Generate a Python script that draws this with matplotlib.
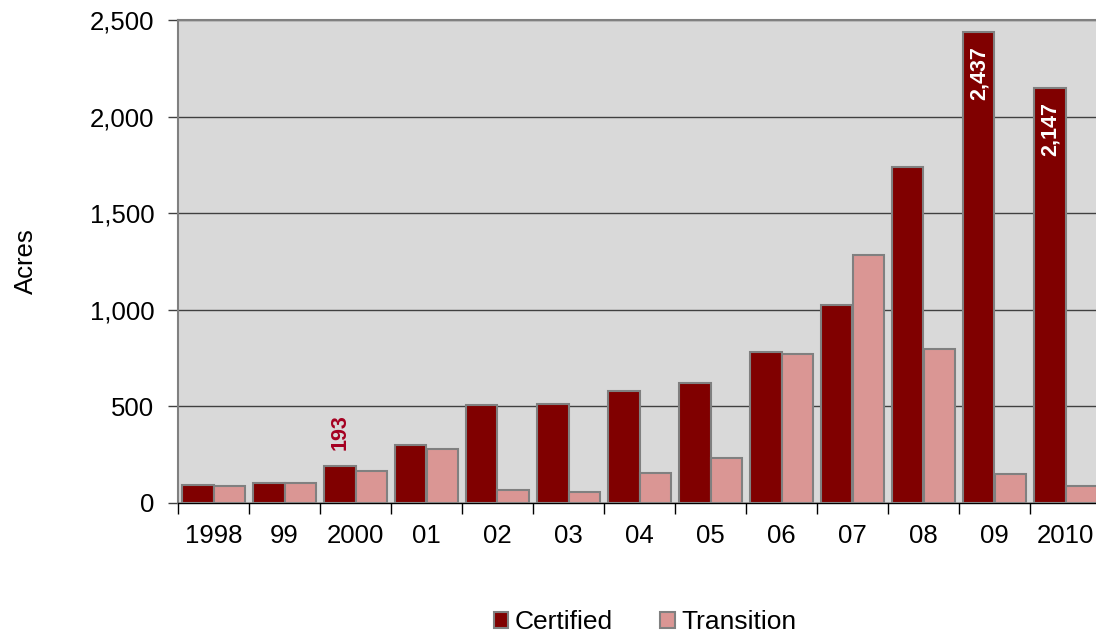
import matplotlib.pyplot as plt
import numpy as np
from matplotlib.patches import Patch
from matplotlib.ticker import FuncFormatter, FixedLocator

plt.rcParams['font.family'] = ['Liberation Sans', 'DejaVu Sans']

years = ['1998', '99', '2000', '01', '02', '03', '04', '05', '06', '07', '08', '09', '2010']
certified = [93, 105, 193, 300, 507, 511, 578, 622, 780, 1025, 1739, 2437, 2147]
transition = [88, 105, 166, 278, 67, 56, 154, 231, 773, 1285, 797, 148, 89]
yticks = [0, 500, 1000, 1500, 2000, 2500]

cert_color = '#800000'
trans_color = '#DA9694'
edge = '#808080'

fig = plt.figure(figsize=(10.96, 6.34), dpi=100)
ax = fig.add_axes([178 / 1096, 1 - 503 / 634, 923 / 1096, 483 / 634])
ax.set_facecolor('#D9D9D9')

x = np.arange(len(years))
w = 0.437
ax.bar(x - w / 2, certified, w, color=cert_color, edgecolor=edge, linewidth=1.5, zorder=3)
ax.bar(x + w / 2, transition, w, color=trans_color, edgecolor=edge, linewidth=1.5, zorder=3)

ax.set_xlim(-0.5, len(years) - 0.5)
ax.set_ylim(0, 2500)
ax.set_yticks(yticks)
ax.yaxis.set_major_formatter(FuncFormatter(lambda v, p: f'{int(v):,}'))
ax.yaxis.grid(True, color='#404040', linewidth=1.0, zorder=1)
ax.tick_params(axis='y', length=7, width=1, labelsize=18.5, pad=10, color='#404040')

ax.set_xticks(x)
ax.set_xticklabels(years)
ax.tick_params(axis='x', which='major', length=0, labelsize=18.5, pad=15)
ax.xaxis.set_minor_locator(FixedLocator(np.arange(-0.5, len(years), 1.0)))
ax.tick_params(axis='x', which='minor', length=8, width=1, color='black')

for s in ['left', 'top', 'right']:
    ax.spines[s].set_color(edge)
    ax.spines[s].set_linewidth(1.5)
ax.spines['bottom'].set_color('black')
ax.spines['bottom'].set_linewidth(1.0)

ax.set_ylabel('Acres', fontsize=18.5, labelpad=37)

# value labels
ax.text(x[2] - w / 2, certified[2] + 80, f'{certified[2]:,}', rotation=90, ha='center', va='bottom',
        color='#A50021', fontsize=15.5, fontweight='bold')
for i in (11, 12):
    ax.text(x[i] - w / 2, certified[i] - 70, f'{certified[i]:,}', rotation=90, ha='center', va='top',
            color='white', fontsize=15.5, fontweight='bold', zorder=4)

handles = [Patch(facecolor=cert_color, edgecolor=edge, linewidth=1.5, label='Certified'),
           Patch(facecolor=trans_color, edgecolor=edge, linewidth=1.5, label='Transition')]
fig.legend(handles=handles, loc='center', bbox_to_anchor=(645 / 1096, 1 - 622 / 634), ncol=2,
           frameon=False, fontsize=19, handlelength=0.55, handleheight=0.55, handletextpad=0.25,
           columnspacing=1.8)

fig.savefig('out.png', dpi=100)
